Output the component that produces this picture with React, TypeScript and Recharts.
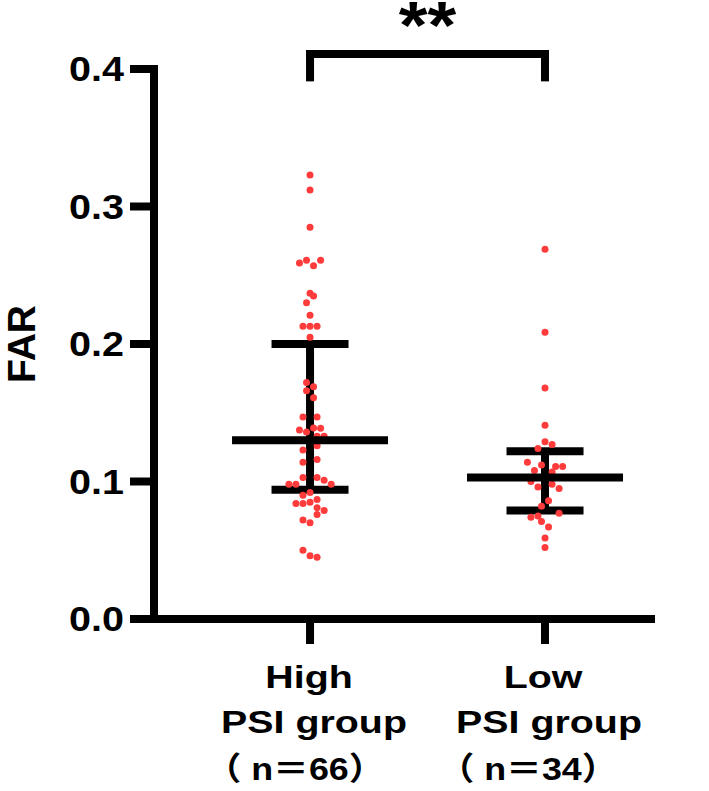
import { ScatterChart, Scatter, XAxis, YAxis, ErrorBar, ReferenceLine, Label } from "recharts";

// groups on the x axis
const groupPositions = [1, 2];
const groupLabels = [
  ["High", "PSI group", "（ n＝66）"],
  ["Low", "PSI group", "（ n＝34）"],
];
const yTicks = [0, 0.1, 0.2, 0.3, 0.4];

// individual FAR values, with their swarm lane (offset from group centre)
const highValues = [
  0.323, 0.312, 0.285, 0.259, 0.261, 0.257, 0.261, 0.237, 0.235, 0.23, 0.221,
  0.213, 0.213, 0.213, 0.205, 0.172, 0.169, 0.166, 0.161, 0.147, 0.147, 0.1375,
  0.136, 0.139, 0.1387, 0.133, 0.133, 0.123, 0.126, 0.114, 0.116, 0.103, 0.103,
  0.101, 0.098, 0.098, 0.098, 0.09, 0.092, 0.087, 0.084, 0.084, 0.085, 0.081,
  0.079, 0.076, 0.072, 0.07, 0.05, 0.046, 0.045,
];
const highLanes = [
  0, 0, 0, -1.5, -0.5, 0.5, 1.5, 0, 0.5, -0.5, 0,
  -1, 0, 1, 0, -0.5, 0.5, -0.5, 0.5, -1, 1, -1.5,
  -0.5, 0.5, 1.5, 2, 1, -1, 1, -1, 1, -1, 1,
  2, -3, -2, 3, -1, 0, 1, -2, -1, 0, 1,
  2, 1, -1, 0, -1, 0, 1,
];
const lowValues = [
  0.269, 0.2085, 0.168, 0.141, 0.129, 0.127, 0.124, 0.114, 0.108, 0.112, 0.111,
  0.111, 0.107, 0.1, 0.098, 0.096, 0.095, 0.086, 0.082, 0.077, 0.074, 0.075,
  0.071, 0.067, 0.059, 0.052,
];
const lowLanes = [
  0, 0, 0, 0, 0, 1, -1, -2.5, -1.5, -0.5, 1.5,
  2.5, 1, -2, 1, -1, 2, 0.5, -0.5, 2, -2, -1,
  -0.5, 0.5, 0, 0,
];

// mean and spread per group
const means = [0.13, 0.103];
const upperBars = [0.2, 0.122];
const lowerBars = [0.094, 0.079];

// significance bracket
const bracketTop = 0.411;
const bracketFoot = 0.391;
const significance = "**";

const LANE = 0.03;
const FONT = "'Liberation Sans', Arial, 'Noto Sans CJK SC', sans-serif";
const RED = "#ff3b3b";

const dots = [
  ...highValues.map((v, i) => ({ x: groupPositions[0] + highLanes[i] * LANE, y: v })),
  ...lowValues.map((v, i) => ({ x: groupPositions[1] + lowLanes[i] * LANE, y: v })),
];

const summary = groupPositions.map((g, i) => ({
  x: g,
  y: means[i],
  err: [means[i] - lowerBars[i], upperBars[i] - means[i]],
}));

const lineDx = [[-1, 4, -15], [-2, 4, -17]];
const lineDy = [42, 87, 134];

// the original lettering is a wide bold sans; stretch Arial-metric text to match
function WideText({ x, y, scale, anchor, size, children, dy }: any) {
  return (
    <text
      transform={`translate(${x}, ${y}) scale(${scale}, 1)`}
      x={0}
      y={0}
      dy={dy}
      textAnchor={anchor}
      fontFamily={FONT}
      fontWeight="bold"
      fontSize={size}
      fill="#000"
    >
      {children}
    </text>
  );
}

function GroupTick({ x, y, payload }: any) {
  const gi = groupPositions.indexOf(payload.value);
  const lines = groupLabels[gi] || [];
  return (
    <g>
      {lines.map((t, k) => (
        <WideText key={k} x={x + lineDx[gi][k]} y={y + lineDy[k]} scale={k === 2 ? 1.12 : 1.23} anchor="middle" size={32}>
          {t}
        </WideText>
      ))}
    </g>
  );
}

function ValueTick({ x, y, payload }: any) {
  return (
    <WideText x={x} y={y} dy="0.355em" scale={1.13} anchor="end" size={35}>
      {Number(payload.value).toFixed(1)}
    </WideText>
  );
}

export default function App() {
  return (
    <div style={{ position: "absolute", left: 0, top: 0, background: "#fff" }}>
      <ScatterChart width={709} height={791} margin={{ top: 69, right: 58, bottom: 12, left: 0 }}>
        <XAxis
          type="number"
          dataKey="x"
          domain={[0.336, 2.451]}
          ticks={groupPositions}
          allowDataOverflow
          tickSize={25}
          height={160}
          tickLine={{ stroke: "#000", strokeWidth: 8 }}
          axisLine={{ stroke: "#000", strokeWidth: 8, strokeLinecap: "square" }}
          tick={<GroupTick />}
        />
        <YAxis
          type="number"
          dataKey="y"
          domain={[0, 0.4]}
          ticks={yTicks}
          allowDataOverflow
          width={154}
          tickSize={24}
          tickMargin={6}
          tickLine={{ stroke: "#000", strokeWidth: 8 }}
          axisLine={{ stroke: "#000", strokeWidth: 8, strokeLinecap: "square" }}
          tick={<ValueTick />}
        >
          <Label
            content={({ viewBox }: any) => {
              const cx = viewBox.x + 35;
              const cy = viewBox.y + viewBox.height / 2;
              return (
                <text
                  x={cx}
                  y={cy}
                  transform={`rotate(-90, ${cx}, ${cy})`}
                  textAnchor="middle"
                  fontFamily={FONT}
                  fontWeight="bold"
                  fontSize={39}
                  fill="#000"
                >
                  FAR
                </text>
              );
            }}
          />
        </YAxis>
        <Scatter
          data={dots}
          isAnimationActive={false}
          shape={(p: any) => <circle cx={p.cx} cy={p.cy} r={3.5} fill={RED} />}
        />
        <Scatter
          data={summary}
          isAnimationActive={false}
          shape={(p: any) => (
            <line x1={p.cx - 78} x2={p.cx + 78} y1={p.cy} y2={p.cy} stroke="#000" strokeWidth={8} />
          )}
        >
          <ErrorBar dataKey="err" direction="y" width={38.5} stroke="#000" strokeWidth={8} isAnimationActive={false} />
        </Scatter>
        <ReferenceLine
          ifOverflow="visible"
          segment={[{ x: groupPositions[0], y: bracketFoot }, { x: groupPositions[0], y: bracketTop }]}
          stroke="#000"
          strokeWidth={8}
        />
        <ReferenceLine
          ifOverflow="visible"
          segment={[{ x: groupPositions[1], y: bracketFoot }, { x: groupPositions[1], y: bracketTop }]}
          stroke="#000"
          strokeWidth={8}
        />
        <ReferenceLine
          ifOverflow="visible"
          segment={[{ x: groupPositions[0], y: bracketTop }, { x: groupPositions[1], y: bracketTop }]}
          stroke="#000"
          strokeWidth={8}
          strokeLinecap="square"
          label={({ viewBox }: any) => (
            <WideText x={viewBox.x + viewBox.width / 2} y={viewBox.y - 6} scale={1.12} anchor="middle" size={66}>
              {significance}
            </WideText>
          )}
        />
      </ScatterChart>
    </div>
  );
}
